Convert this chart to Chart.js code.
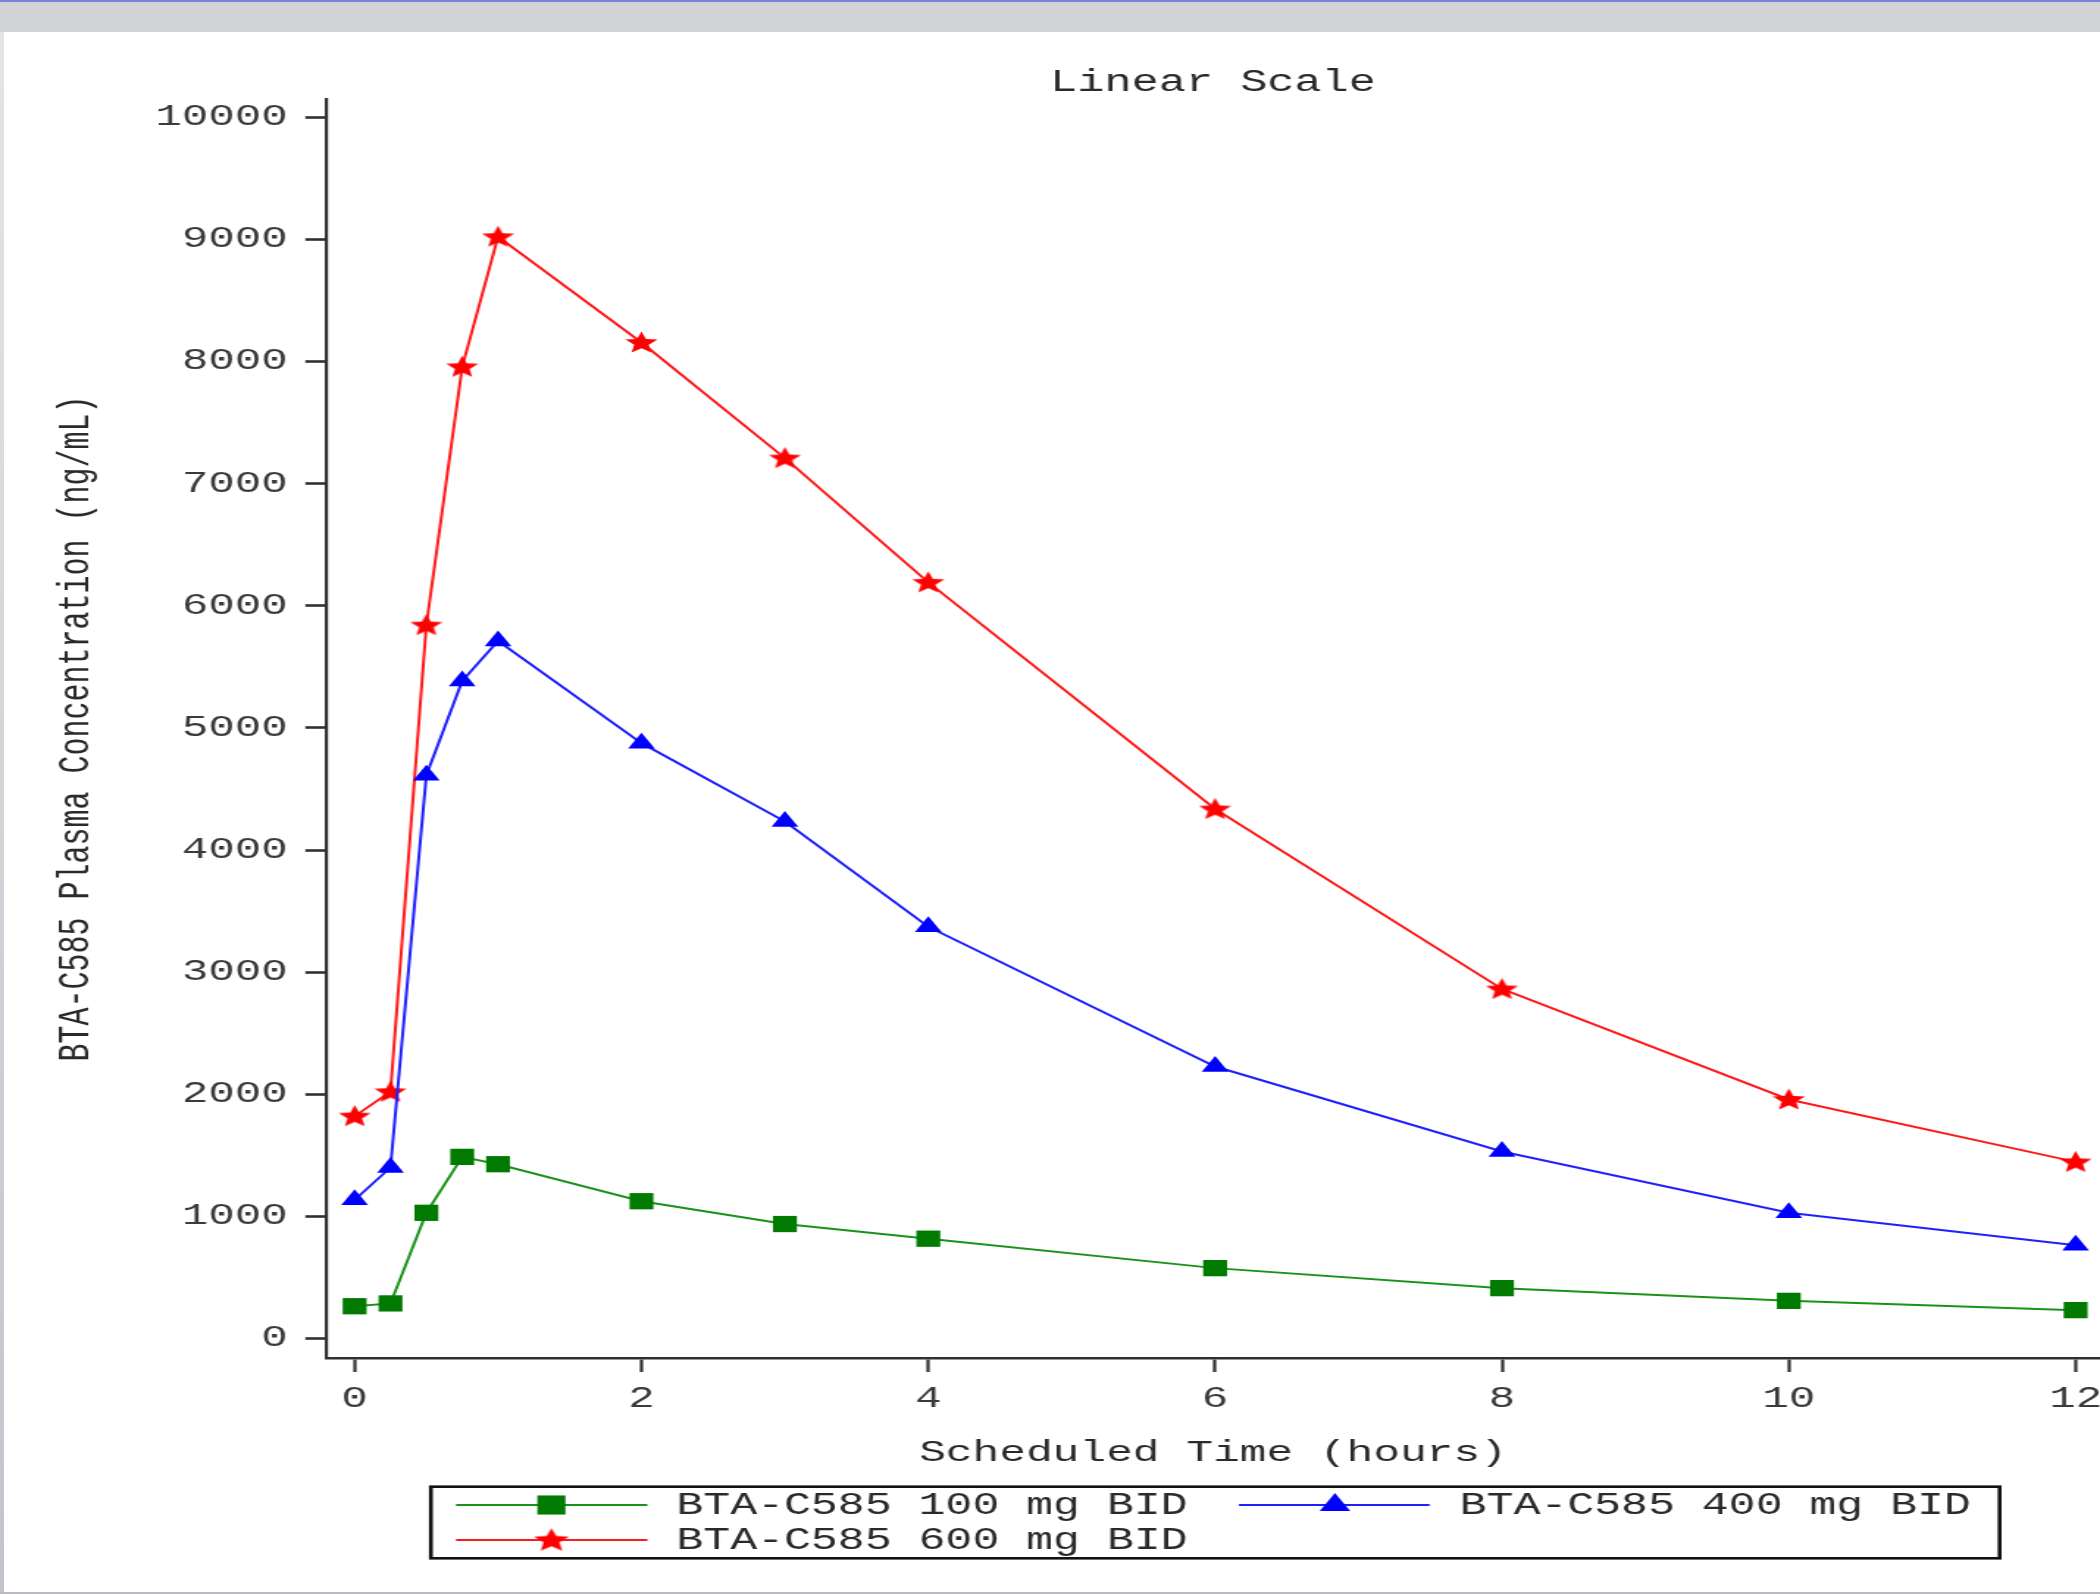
<!DOCTYPE html>
<html>
<head>
<meta charset="utf-8">
<title>BTA-C585 Plasma Concentration – Linear Scale</title>
<script src="https://cdn.jsdelivr.net/npm/chart.js@4/dist/chart.umd.min.js"></script>
<style>
  html, body { margin: 0; padding: 0; background: #ffffff; }
  body { width: 2100px; height: 1594px; overflow: hidden; position: relative; }
  #wrap { position: absolute; left: 0; top: 0; transform-origin: 0 0; }
  #wrap canvas { display: block; }
  .frame { position: absolute; }
</style>
</head>
<body>
<div id="wrap"><canvas id="pk" width="1429" height="1594"></canvas></div>
<div class="frame" style="left:0;top:0;width:2100px;height:2px;background:#7c80d6"></div>
<div class="frame" style="left:0;top:2px;width:2100px;height:30px;background:#d2d3d7"></div>
<div class="frame" style="left:0;top:32px;width:4px;height:1560px;background:linear-gradient(#e3e4e6,#c2c4cb)"></div>
<div class="frame" style="left:0;top:1592px;width:2100px;height:2px;background:#b9babf"></div>
<script>
// Scheduled sampling times (hours)
const times = [0, 0.25, 0.5, 0.75, 1, 2, 3, 4, 6, 8, 10, 12];

// Mean plasma concentrations (ng/mL) per dose group
const dose100 = [264, 287, 1029, 1487, 1427, 1124, 937, 817, 576, 412, 308, 232];
const dose400 = [1135, 1400, 4613, 5385, 5712, 4875, 4233, 3372, 2227, 1531, 1030, 764];
const dose600 = [1821, 2020, 5842, 7957, 9022, 8156, 7210, 6192, 4336, 2862, 1957, 1446];

const seriesLabels = ['BTA-C585 100 mg BID', 'BTA-C585 400 mg BID', 'BTA-C585 600 mg BID'];

// Axis ticks
const xTicks = [0, 2, 4, 6, 8, 10, 12];
const yTicks = [0, 1000, 2000, 3000, 4000, 5000, 6000, 7000, 8000, 9000, 10000];

// The output is a horizontally widened rendering
const STRETCH = 2100 / 1429;
document.getElementById('wrap').style.transform = 'scaleX(' + STRETCH + ')';

const FAMILY = "'Liberation Mono', 'Courier New', monospace";
const FONT = { family: FAMILY, size: 30, weight: 'normal' };
const INK = '#2a2a2a';
const AXIS = '#303030';

// Filled five-point star used as a point marker
function makeStar(R, color) {
  const size = Math.ceil(R * 2) + 2;
  const c = document.createElement('canvas');
  c.width = size; c.height = size;
  const g = c.getContext('2d');
  g.translate(size / 2, size / 2 + R * 0.05);
  g.beginPath();
  for (let i = 0; i < 10; i++) {
    const r = i % 2 ? R * 0.45 : R;
    const a = -Math.PI / 2 + i * Math.PI / 5;
    g.lineTo(r * Math.cos(a), r * Math.sin(a));
  }
  g.closePath();
  g.fillStyle = color;
  g.fill();
  return c;
}
const starPlot = makeStar(11.5, '#ff0000');
const starLegend = makeStar(12.5, '#ff0000');

function toPoints(ys) { return times.map((t, i) => ({ x: t, y: ys[i] })); }

// Legend drawn as line + marker samples inside a framed box
const boxedLegend = {
  id: 'boxedLegend',
  afterDraw(chart) {
    const ctx = chart.ctx;
    const box = { left: 293.2, right: 1360.7, top: 1486.7, bottom: 1558.3 };
    const items = [
      { ds: 0, x1: 310.3, x2: 440.5, mx: 375.2, tx: 460.3, y: 1505, radius: 13.5, legendStyle: 'rect' },
      { ds: 1, x1: 843.1, x2: 972.8, mx: 908.4, tx: 993.3, y: 1505, radius: 12, legendStyle: 'triangle' },
      { ds: 2, x1: 310.3, x2: 440.5, mx: 375.2, tx: 460.3, y: 1540, radius: 12.5, legendStyle: starLegend }
    ];
    ctx.save();
    ctx.strokeStyle = '#111';
    ctx.lineWidth = 2.6;
    ctx.strokeRect(box.left, box.top, box.right - box.left, box.bottom - box.top);
    items.forEach(it => {
      const ds = chart.data.datasets[it.ds];
      ctx.strokeStyle = ds.borderColor;
      ctx.lineWidth = 2;
      ctx.beginPath();
      ctx.moveTo(it.x1, it.y);
      ctx.lineTo(it.x2, it.y);
      ctx.stroke();
      ctx.fillStyle = ds.backgroundColor;
      ctx.strokeStyle = ds.borderColor;
      Chart.helpers.drawPoint(ctx, { pointStyle: it.legendStyle, radius: it.radius, rotation: 0, borderWidth: 0 }, it.mx, it.y);
      ctx.fillStyle = INK;
      ctx.font = '30.5px ' + FAMILY;
      ctx.textAlign = 'left';
      ctx.textBaseline = 'middle';
      ctx.fillText(ds.label, it.tx, it.y + 1);
    });
    ctx.restore();
  }
};

new Chart(document.getElementById('pk'), {
  type: 'line',
  data: {
    datasets: [
      {
        label: seriesLabels[0], data: toPoints(dose100),
        borderColor: '#1a921a', backgroundColor: '#007a00', borderWidth: 2,
        pointStyle: 'rect', pointRadius: 11.5, pointBorderWidth: 0, pointBackgroundColor: '#007a00'
      },
      {
        label: seriesLabels[1], data: toPoints(dose400),
        borderColor: '#2020ff', backgroundColor: '#0000ff', borderWidth: 2,
        pointStyle: 'triangle', pointRadius: 10.5, pointBorderWidth: 0, pointBackgroundColor: '#0000ff'
      },
      {
        label: seriesLabels[2], data: toPoints(dose600),
        borderColor: '#ff1a1a', backgroundColor: '#ff0000', borderWidth: 2,
        pointStyle: starPlot, pointRadius: 11.5, pointBorderWidth: 0
      }
    ]
  },
  options: {
    responsive: false,
    animation: false,
    devicePixelRatio: 1,
    clip: false,
    layout: { autoPadding: false, padding: { left: 0, right: 0, top: 0, bottom: 121 } },
    elements: { line: { tension: 0 } },
    plugins: {
      legend: { display: false },
      tooltip: { enabled: false },
      title: {
        display: true, text: 'Linear Scale', fullSize: false,
        font: { family: FAMILY, size: 30.8, weight: 'normal', lineHeight: 1.2 }, color: INK,
        padding: { top: 64, bottom: -1.96 }
      }
    },
    scales: {
      x: {
        type: 'linear', position: 'bottom', min: -0.2, max: 12.17,
        afterBuildTicks: s => { s.ticks = xTicks.map(v => ({ value: v })); },
        afterFit: s => { s.height = 115; s.paddingLeft = 0; s.paddingRight = 0; },
        grid: { display: true, drawOnChartArea: false, drawTicks: true, tickLength: 14, tickWidth: 2.2, tickColor: AXIS },
        border: { display: true, color: AXIS, width: 2.6 },
        ticks: { font: FONT, color: '#3a3a3a', padding: 9, maxRotation: 0, autoSkip: false },
        title: {
          display: true, text: 'Scheduled Time (hours)',
          font: { family: FAMILY, size: 30.3, weight: 'normal' }, color: INK,
          padding: { top: 0, bottom: 2 }
        }
      },
      y: {
        type: 'linear', position: 'left', min: -160, max: 10150,
        afterBuildTicks: s => { s.ticks = yTicks.map(v => ({ value: v })); },
        afterFit: s => { s.width = 221.8; s.paddingTop = 0; s.paddingBottom = 0; },
        grid: { display: true, drawOnChartArea: false, drawTicks: true, tickLength: 14, tickWidth: 2.6, tickColor: AXIS },
        border: { display: true, color: AXIS, width: 2.2 },
        ticks: { font: FONT, color: '#3a3a3a', padding: 12, autoSkip: false, callback: v => String(v) },
        title: { display: true, text: 'BTA-C585 Plasma Concentration (ng/mL)', font: FONT, color: INK, padding: { top: 34, bottom: 0 } }
      }
    }
  },
  plugins: [boxedLegend]
});
</script>
</body>
</html>
